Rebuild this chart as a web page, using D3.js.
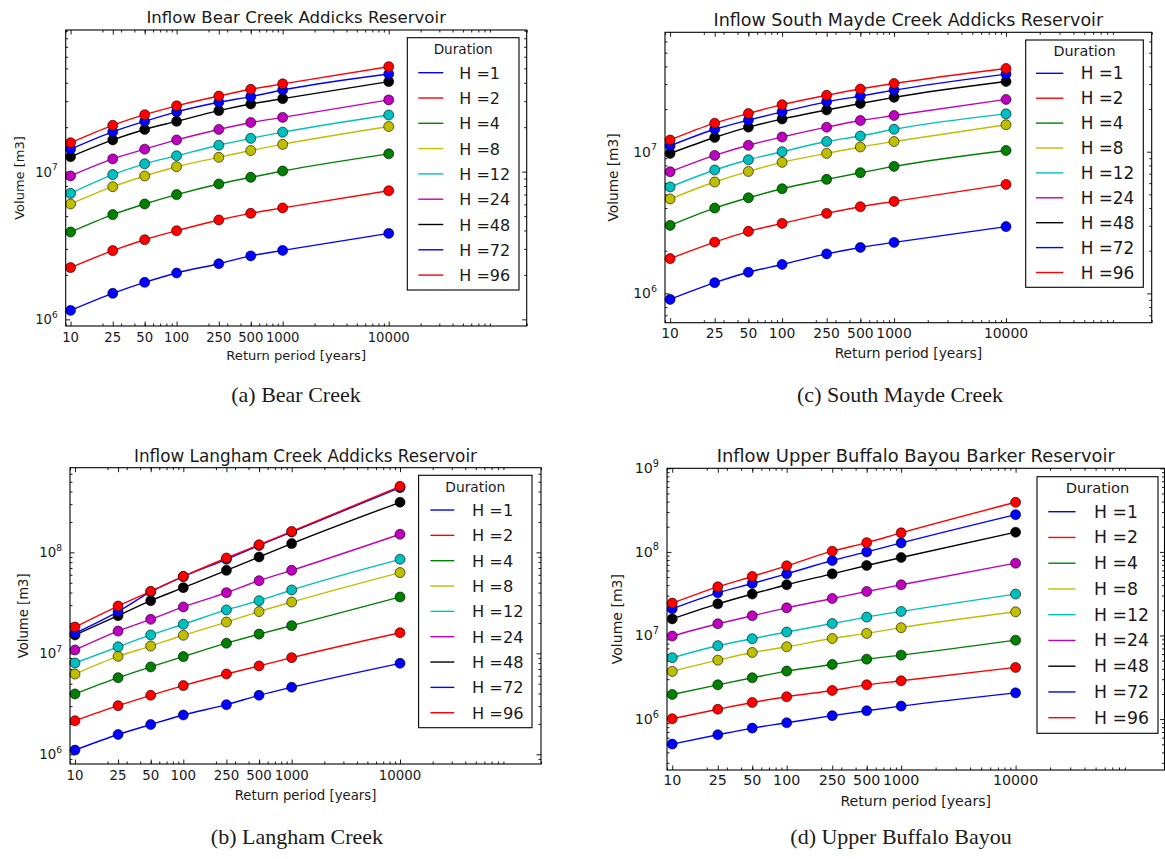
<!DOCTYPE html>
<html>
<head>
<meta charset="utf-8">
<script src="https://cdn.jsdelivr.net/npm/d3@7"></script>
<style>
  body { margin: 0; background: #fff; }
  svg { display: block; }
  text { font-family: "DejaVu Sans", sans-serif; fill: #1a1a1a; }
  .caption { font-family: "Liberation Serif", serif; }
</style>
</head>
<body>
<svg id="chart" width="1165" height="859"></svg>
<script>
// ---------------- DATA ----------------
const returnPeriods = [10, 25, 50, 100, 250, 500, 1000, 10000];
const returnPeriodLabels = ["10", "25", "50", "100", "250", "500", "1000", "10000"];
const durationLabels = ["H =1", "H =2", "H =4", "H =8", "H =12", "H =24", "H =48", "H =72", "H =96"];
const durationColors = ["#0000ff", "#ff0000", "#008000", "#bfbf00", "#00bfbf", "#bf00bf", "#000000", "#0000ff", "#ff0000"];

const panelTitles = [
  "Inflow Bear Creek Addicks Reservoir",
  "Inflow South Mayde Creek Addicks Reservoir",
  "Inflow Langham Creek Addicks Reservoir",
  "Inflow Upper Buffalo Bayou Barker Reservoir"
];
const panelCaptions = ["(a) Bear Creek", "(c) South Mayde Creek", "(b) Langham Creek", "(d) Upper Buffalo Bayou"];
const legendTitle = "Duration";
const xAxisLabel = "Return period [years]";
const yAxisLabel = "Volume [m3]";

// volumes [m3], one row per duration, one column per return period
const bearCreekVolumes = [
  [1.15e6, 1.50e6, 1.78e6, 2.06e6, 2.38e6, 2.69e6, 2.93e6, 3.82e6],
  [2.24e6, 2.92e6, 3.46e6, 3.98e6, 4.71e6, 5.22e6, 5.68e6, 7.43e6],
  [3.90e6, 5.12e6, 6.04e6, 6.99e6, 8.25e6, 9.15e6, 1.01e7, 1.32e7],
  [6.04e6, 7.91e6, 9.35e6, 1.08e7, 1.25e7, 1.39e7, 1.53e7, 2.02e7],
  [7.13e6, 9.55e6, 1.13e7, 1.28e7, 1.51e7, 1.68e7, 1.85e7, 2.42e7],
  [9.35e6, 1.22e7, 1.42e7, 1.64e7, 1.93e7, 2.15e7, 2.33e7, 3.06e7],
  [1.26e7, 1.64e7, 1.93e7, 2.19e7, 2.59e7, 2.87e7, 3.12e7, 4.07e7],
  [1.42e7, 1.86e7, 2.19e7, 2.54e7, 2.95e7, 3.22e7, 3.57e7, 4.58e7],
  [1.57e7, 2.06e7, 2.43e7, 2.79e7, 3.25e7, 3.61e7, 3.93e7, 5.14e7]
];
const southMaydeCreekVolumes = [
  [9.07e5, 1.19e6, 1.41e6, 1.60e6, 1.90e6, 2.11e6, 2.29e6, 2.96e6],
  [1.76e6, 2.30e6, 2.74e6, 3.12e6, 3.67e6, 4.09e6, 4.46e6, 5.88e6],
  [3.02e6, 4.00e6, 4.73e6, 5.48e6, 6.38e6, 7.11e6, 7.88e6, 1.02e7],
  [4.64e6, 6.11e6, 7.26e6, 8.41e6, 9.73e6, 1.08e7, 1.18e7, 1.55e7],
  [5.64e6, 7.43e6, 8.78e6, 1.00e7, 1.18e7, 1.29e7, 1.44e7, 1.85e7],
  [7.22e6, 9.42e6, 1.11e7, 1.27e7, 1.49e7, 1.66e7, 1.80e7, 2.34e7],
  [9.73e6, 1.26e7, 1.49e7, 1.70e7, 1.97e7, 2.19e7, 2.42e7, 3.13e7],
  [1.10e7, 1.44e7, 1.67e7, 1.91e7, 2.25e7, 2.47e7, 2.72e7, 3.53e7],
  [1.21e7, 1.59e7, 1.86e7, 2.15e7, 2.50e7, 2.77e7, 3.03e7, 3.87e7]
];
const langhamCreekVolumes = [
  [1.10e6, 1.57e6, 1.97e6, 2.45e6, 3.10e6, 3.84e6, 4.61e6, 7.96e6],
  [2.15e6, 3.03e6, 3.84e6, 4.79e6, 6.24e6, 7.50e6, 9.06e6, 1.60e7],
  [3.96e6, 5.74e6, 7.33e6, 9.28e6, 1.26e7, 1.55e7, 1.88e7, 3.61e7],
  [6.24e6, 9.33e6, 1.18e7, 1.51e7, 2.04e7, 2.59e7, 3.22e7, 6.30e7],
  [8.02e6, 1.16e7, 1.52e7, 1.94e7, 2.69e7, 3.32e7, 4.24e7, 8.53e7],
  [1.08e7, 1.66e7, 2.17e7, 2.88e7, 3.99e7, 5.24e7, 6.63e7, 1.51e8],
  [1.52e7, 2.36e7, 3.32e7, 4.47e7, 6.63e7, 8.99e7, 1.22e8, 3.13e8],
  [1.58e7, 2.59e7, 4.05e7, 5.75e7, 8.53e7, 1.17e8, 1.59e8, 4.37e8],
  [1.82e7, 2.94e7, 4.11e7, 5.78e7, 8.79e7, 1.19e8, 1.61e8, 4.50e8]
];
const upperBuffaloBayouVolumes = [
  [5.02e5, 6.50e5, 7.80e5, 9.03e5, 1.10e6, 1.26e6, 1.43e6, 2.06e6],
  [1.01e6, 1.31e6, 1.58e6, 1.85e6, 2.20e6, 2.57e6, 2.87e6, 4.15e6],
  [1.97e6, 2.57e6, 3.12e6, 3.75e6, 4.50e6, 5.21e6, 5.82e6, 8.79e6],
  [3.72e6, 5.07e6, 6.26e6, 7.33e6, 9.20e6, 1.06e7, 1.24e7, 1.92e7],
  [5.43e6, 7.55e6, 9.15e6, 1.10e7, 1.39e7, 1.66e7, 1.94e7, 3.13e7],
  [9.84e6, 1.38e7, 1.72e7, 2.14e7, 2.77e7, 3.36e7, 4.04e7, 7.33e7],
  [1.58e7, 2.39e7, 3.13e7, 4.04e7, 5.46e7, 6.87e7, 8.56e7, 1.72e8],
  [2.09e7, 3.24e7, 4.19e7, 5.46e7, 7.88e7, 1.00e8, 1.28e8, 2.79e8],
  [2.44e7, 3.82e7, 5.08e7, 6.81e7, 1.02e8, 1.29e8, 1.69e8, 3.92e8]
];

const xDomain = [9, 2e5];
const yDomainExponents = [[5.955, 7.959], [5.793, 7.843], [5.904, 8.838], [5.391, 9.0]];

// ---------------- LAYOUT ----------------
const layouts = [
  { s: 1.0,   box: {x0: 65.7, x1: 526.7, y0: 30,    y1: 326},   titleY: 23,  xTickY: 342, xLabelY: 360, yLabelX: 19,
    legend: {x0: 407.3, x1: 519,    y0: 37.7,  y1: 290,   titleY: 49.3,  row0: 72.7,  step: 25.3,  lx0: 418.3,  lx1: 443.3,  tx: 459.3},
    capX: 296, capY: 402 },
  { s: 1.055, box: {x0: 665,  x1: 1151.7, y0: 32.3, y1: 322.7}, titleY: 26,  xTickY: 338, xLabelY: 358, yLabelX: 613,
    legend: {x0: 1025.7, x1: 1143.3, y0: 40,   y1: 287.3, titleY: 51,    row0: 73.3,  step: 24.9,  lx0: 1036,   lx1: 1063.3, tx: 1080.7},
    capX: 900, capY: 402 },
  { s: 1.015, box: {x0: 70,   x1: 541,    y0: 467.7, y1: 764},  titleY: 461.5, xTickY: 780, xLabelY: 800, yLabelX: 23,
    legend: {x0: 418.6, x1: 532,    y0: 475.3, y1: 727.7, titleY: 487.3, row0: 510,   step: 25.34, lx0: 430.4,  lx1: 454.3,  tx: 472},
    capX: 297, capY: 844 },
  { s: 1.08,  box: {x0: 667,  x1: 1164.5, y0: 468.3, y1: 770},  titleY: 461.5, xTickY: 785, xLabelY: 806, yLabelX: 617,
    legend: {x0: 1037, x1: 1158,   y0: 476.7, y1: 733.3, titleY: 488.3, row0: 511.7, step: 25.75, lx0: 1048.3, lx1: 1075.5, tx: 1094},
    capX: 901, capY: 844 }
];
const panelValues = [bearCreekVolumes, southMaydeCreekVolumes, langhamCreekVolumes, upperBuffaloBayouVolumes];

const svg = d3.select("#chart");

function logMajor(dom) {
  const out = [];
  for (let e = Math.floor(Math.log10(dom[0])); e <= Math.ceil(Math.log10(dom[1])); e++) {
    const v = Math.pow(10, e);
    if (v >= dom[0] * 0.999 && v <= dom[1] * 1.001) out.push(v);
  }
  return out;
}
function logMinor(dom) {
  const out = [];
  for (let e = Math.floor(Math.log10(dom[0])); e <= Math.ceil(Math.log10(dom[1])); e++) {
    for (let k = 2; k <= 9; k++) {
      const v = k * Math.pow(10, e);
      if (v >= dom[0] && v <= dom[1]) out.push(v);
    }
  }
  return out;
}

function drawPanel(i) {
  const L = layouts[i];
  const b = L.box;
  const s = L.s;
  const values = panelValues[i];
  const yDomain = yDomainExponents[i].map(e => Math.pow(10, e));
  const g = svg.append("g");

  const x = d3.scaleLog().domain(xDomain).range([b.x0, b.x1]);
  const y = d3.scaleLog().domain(yDomain).range([b.y1, b.y0]);

  // ticks on all four sides, pointing inward
  const xMinor = logMinor(xDomain);
  const yMajor = logMajor(yDomain);
  const yMinor = logMinor(yDomain);
  const sides = [
    [() => d3.axisBottom(x), `translate(0,${b.y1})`, returnPeriods, xMinor],
    [() => d3.axisTop(x),    `translate(0,${b.y0})`, returnPeriods, xMinor],
    [() => d3.axisLeft(y),   `translate(${b.x0},0)`, yMajor, yMinor],
    [() => d3.axisRight(y),  `translate(${b.x1},0)`, yMajor, yMinor]
  ];
  sides.forEach(([mk, tr, major, minor]) => {
    [[major, 4.5], [minor, 2.5]].forEach(([vals, len]) => {
      g.append("g").attr("transform", tr)
        .call(mk().tickValues(vals).tickSize(-len).tickFormat(""))
        .call(sel => sel.select(".domain").remove())
        .selectAll("line").attr("stroke", "#000").attr("stroke-width", 0.9);
    });
  });

  // series
  const line = d3.line()
    .x((d, k) => x(returnPeriods[k]))
    .y(d => y(d))
    .curve(d3.curveMonotoneX);
  values.forEach((series, k) => {
    g.append("path").attr("d", line(series))
      .attr("fill", "none").attr("stroke", durationColors[k]).attr("stroke-width", 1.4);
    g.selectAll(null).data(series).enter().append("circle")
      .attr("cx", (d, j) => x(returnPeriods[j]))
      .attr("cy", d => y(d))
      .attr("r", 5)
      .attr("fill", durationColors[k])
      .attr("stroke", "#000").attr("stroke-width", 0.6);
  });

  // spines
  g.append("rect").attr("x", b.x0).attr("y", b.y0)
    .attr("width", b.x1 - b.x0).attr("height", b.y1 - b.y0)
    .attr("fill", "none").attr("stroke", "#000").attr("stroke-width", 1.1);

  // x tick labels
  returnPeriods.forEach((v, k) => {
    g.append("text").attr("x", x(v)).attr("y", L.xTickY)
      .attr("text-anchor", "middle").attr("font-size", 13.2 * s)
      .text(returnPeriodLabels[k]);
  });
  // y tick labels 10^n
  yMajor.forEach(v => {
    const t = g.append("text").attr("x", b.x0 - 8).attr("y", y(v) + 5)
      .attr("text-anchor", "end").attr("font-size", 13.2 * s);
    t.append("tspan").text("10");
    t.append("tspan").attr("dy", -6.5).attr("font-size", 9 * s).text(Math.round(Math.log10(v)));
  });

  // title & axis labels
  g.append("text").attr("x", (b.x0 + b.x1) / 2).attr("y", L.titleY)
    .attr("text-anchor", "middle").attr("font-size", 16.6 * s).text(panelTitles[i]);
  g.append("text").attr("x", (b.x0 + b.x1) / 2).attr("y", L.xLabelY)
    .attr("text-anchor", "middle").attr("font-size", 13.1 * s).text(xAxisLabel);
  const yc = (b.y0 + b.y1) / 2;
  g.append("text").attr("transform", `translate(${L.yLabelX},${yc}) rotate(-90)`)
    .attr("text-anchor", "middle").attr("dy", "0.35em")
    .attr("font-size", 13 * s).text(yAxisLabel);

  // legend
  const lg = L.legend;
  g.append("rect").attr("x", lg.x0).attr("y", lg.y0)
    .attr("width", lg.x1 - lg.x0).attr("height", lg.y1 - lg.y0)
    .attr("fill", "#fff").attr("stroke", "#000").attr("stroke-width", 1.1);
  g.append("text").attr("x", (lg.x0 + lg.x1) / 2).attr("y", lg.titleY + 5)
    .attr("text-anchor", "middle").attr("font-size", 13.6 * s).text(legendTitle);
  durationLabels.forEach((lab, k) => {
    const ry = lg.row0 + k * lg.step;
    g.append("line").attr("x1", lg.lx0).attr("x2", lg.lx1).attr("y1", ry).attr("y2", ry)
      .attr("stroke", durationColors[k]).attr("stroke-width", 1.4);
    g.append("text").attr("x", lg.tx).attr("y", ry + 6)
      .attr("font-size", 16 * s).text(lab);
  });

  // caption
  svg.append("text").attr("class", "caption").attr("x", L.capX).attr("y", L.capY)
    .attr("text-anchor", "middle").attr("font-size", 22).text(panelCaptions[i]);
}

[0, 1, 2, 3].forEach(drawPanel);
</script>
</body>
</html>
